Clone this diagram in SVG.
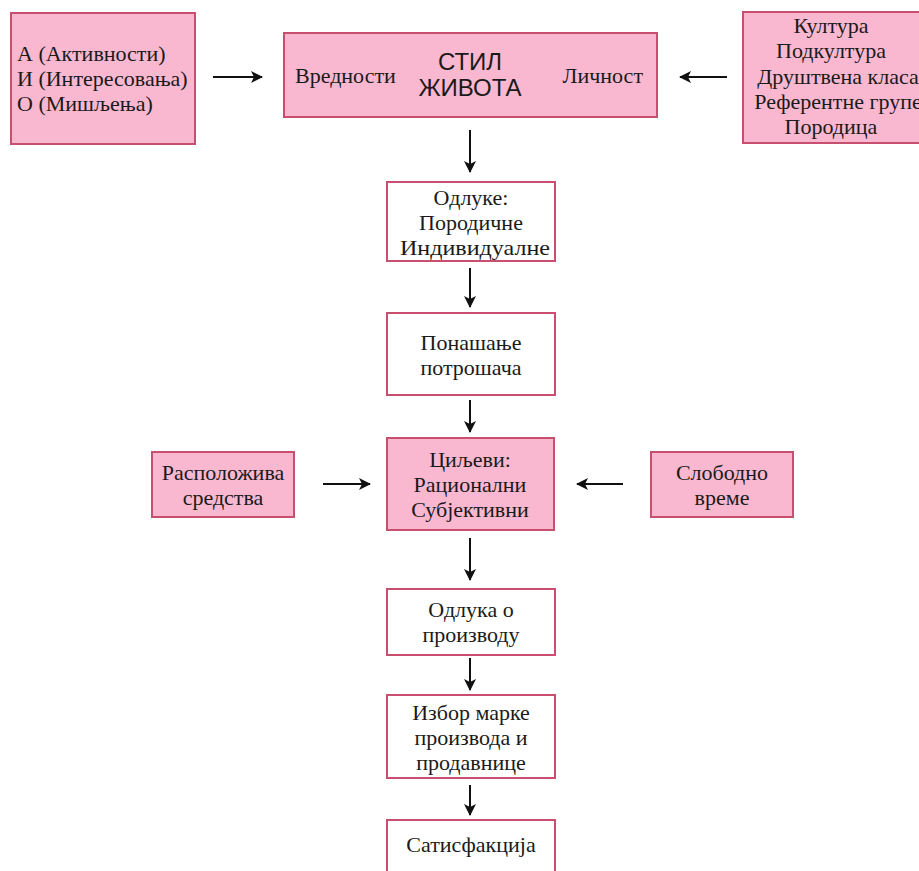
<svg xmlns="http://www.w3.org/2000/svg" width="919" height="871" viewBox="0 0 919 871">
<style>
.pink{fill:#f9b8cf;stroke:#c94f70;stroke-width:2}
.white{fill:#ffffff;stroke:#c94f70;stroke-width:2}
text{font-family:"Liberation Serif","Times New Roman",serif;font-size:22px;fill:#1a1a1a}
.c{text-anchor:middle}
.big{font-family:"Liberation Sans",Arial,sans-serif;font-size:24px}
.conn{stroke:#111;stroke-width:2;fill:none;marker-end:url(#ah)}
</style>
<defs>
<marker id="ah" viewBox="0 0 12 12" refX="11" refY="6" markerWidth="12" markerHeight="12" markerUnits="userSpaceOnUse" orient="auto">
<path d="M0,0 L12,6 L0,12 L3,6 Z" fill="#111"/>
</marker>
</defs>
<rect width="919" height="871" fill="#ffffff"/>
<g id="aio">
<rect class="pink" x="11" y="13" width="184" height="131"/>
<text x="17" y="61">А (Активности)</text>
<text x="17" y="86">И (Интересовања)</text>
<text x="17" y="111">О (Мишљења)</text>
</g>
<g id="stil">
<rect class="pink" x="284" y="33" width="373" height="84"/>
<text x="295" y="83">Вредности</text>
<text class="c big" x="470" y="70">СТИЛ</text>
<text class="c big" x="470" y="96">ЖИВОТА</text>
<text x="643" y="83" text-anchor="end">Личност</text>
</g>
<g id="kultura">
<rect class="pink" x="743" y="12" width="190" height="131"/>
<text class="c" x="831" y="33">Култура</text>
<text class="c" x="831" y="58">Подкултура</text>
<text class="c" x="838" y="84">Друштвена класа</text>
<text class="c" x="838" y="109">Референтне групе</text>
<text class="c" x="831" y="134">Породица</text>
</g>
<g id="odluke">
<rect class="white" x="387" y="182" width="168" height="79"/>
<text class="c" x="471" y="205">Одлуке:</text>
<text class="c" x="471" y="230">Породичне</text>
<text class="c" x="475" y="255" textLength="150" lengthAdjust="spacingAndGlyphs">Индивидуалне</text>
</g>
<g id="ponasanje">
<rect class="white" x="387" y="313" width="168" height="82"/>
<text class="c" x="471" y="350">Понашање</text>
<text class="c" x="471" y="375">потрошача</text>
</g>
<g id="raspoloziva">
<rect class="pink" x="152" y="452" width="142" height="65"/>
<text class="c" x="223" y="480">Расположива</text>
<text class="c" x="223" y="505">средства</text>
</g>
<g id="ciljevi">
<rect class="pink" x="387" y="438" width="167" height="92"/>
<text class="c" x="470" y="467">Циљеви:</text>
<text class="c" x="470" y="492">Рационални</text>
<text class="c" x="470" y="517">Субјективни</text>
</g>
<g id="slobodno">
<rect class="pink" x="651" y="452" width="142" height="65"/>
<text class="c" x="722" y="480">Слободно</text>
<text class="c" x="722" y="505">време</text>
</g>
<g id="odluka">
<rect class="white" x="387" y="589" width="168" height="66"/>
<text class="c" x="471" y="617">Одлука о</text>
<text class="c" x="471" y="642">производу</text>
</g>
<g id="izbor">
<rect class="white" x="387" y="695" width="168" height="83"/>
<text class="c" x="471" y="720">Избор марке</text>
<text class="c" x="471" y="745">производа и</text>
<text class="c" x="471" y="770">продавнице</text>
</g>
<g id="satisfakcija">
<rect class="white" x="387" y="820" width="168" height="70"/>
<text class="c" x="471" y="852">Сатисфакција</text>
</g>
<g id="connectors">
<line class="conn" x1="213" y1="77" x2="262" y2="77"/>
<line class="conn" x1="727" y1="77" x2="680" y2="77"/>
<line class="conn" x1="470" y1="130" x2="470" y2="172"/>
<line class="conn" x1="470" y1="268" x2="470" y2="307"/>
<line class="conn" x1="470" y1="400" x2="470" y2="432"/>
<line class="conn" x1="323" y1="484" x2="370" y2="484"/>
<line class="conn" x1="623" y1="484" x2="577" y2="484"/>
<line class="conn" x1="470" y1="538" x2="470" y2="580"/>
<line class="conn" x1="470" y1="658" x2="470" y2="690"/>
<line class="conn" x1="470" y1="785" x2="470" y2="815"/>
</g>
</svg>
